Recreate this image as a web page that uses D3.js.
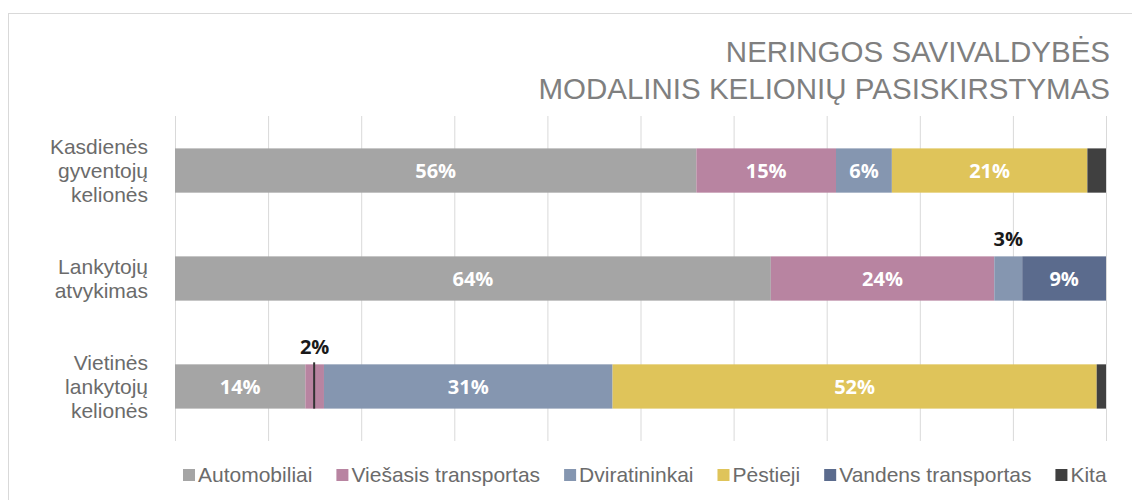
<!DOCTYPE html>
<html>
<head>
<meta charset="utf-8">
<script src="https://cdn.jsdelivr.net/npm/d3@7"></script>
<style>
  body { margin: 0; background: #fff; }
  svg { display: block; }
</style>
</head>
<body>
<div class="chart"></div>
<script>
const WIDTH = 1132;
const HEIGHT = 500;
const MARGIN = { top: 116, right: 26, bottom: 59, left: 175 };

// categories (top to bottom) and series
const categories = [
  ["Kasdienės", "gyventojų", "kelionės"],
  ["Lankytojų", "atvykimas"],
  ["Vietinės", "lankytojų", "kelionės"],
];
const seriesNames = ["Automobiliai", "Viešasis transportas", "Dviratininkai", "Pėstieji", "Vandens transportas", "Kita"];
const colors = ["#a5a5a5", "#b884a1", "#8596b0", "#dfc45a", "#5b6b8d", "#404040"];

// percentage values per series, one per category
const automobiliai = [56, 64, 14];
const viesasis = [15, 24, 2];
const dviratininkai = [6, 3, 31];
const pestieji = [21, 0, 52];
const vandens = [0, 9, 0];
const kita = [2, 0, 1];

const titleLines = ["NERINGOS SAVIVALDYBĖS", "MODALINIS KELIONIŲ PASISKIRSTYMAS"];
const xTicks = [0, 10, 20, 30, 40, 50, 60, 70, 80, 90, 100];

const seriesValues = [automobiliai, viesasis, dviratininkai, pestieji, vandens, kita];
const rows = categories.map((c, i) => {
  const r = { key: i };
  seriesNames.forEach((s, j) => (r[s] = seriesValues[j][i]));
  return r;
});
const stacked = d3.stack().keys(seriesNames)(rows);

const innerW = WIDTH - MARGIN.left - MARGIN.right;
const innerH = HEIGHT - MARGIN.top - MARGIN.bottom;

const x = d3.scaleLinear().domain([0, 100]).range([0, innerW]);
const y = d3.scaleBand().domain(d3.range(categories.length)).range([0, innerH]).paddingInner(0.59).paddingOuter(0.3);

const root = d3.select(".chart").append("svg").attr("width", WIDTH).attr("height", HEIGHT);

// outer chart border
root.append("rect")
  .attr("x", 8.5).attr("y", 13.5)
  .attr("width", WIDTH).attr("height", HEIGHT)
  .attr("fill", "none").attr("stroke", "#d9d9d9");

// title
root.append("text")
  .attr("text-anchor", "end")
  .attr("font-family", "Liberation Sans, Arial, sans-serif")
  .attr("font-size", 29.5)
  .attr("fill", "#7f7f7f")
  .selectAll("tspan")
  .data(titleLines)
  .join("tspan")
  .attr("x", 1110)
  .attr("y", (d, i) => 62 + i * 37)
  .text((d) => d);

const svg = root.append("g").attr("transform", `translate(${MARGIN.left},${MARGIN.top})`);

// vertical gridlines
svg.append("g")
  .call(d3.axisBottom(x).tickValues(xTicks).tickSize(innerH).tickFormat(""))
  .call((g) => g.select(".domain").remove())
  .call((g) => g.selectAll(".tick line").attr("stroke", "#d9d9d9"));

// bars
const layer = svg.selectAll(".layer")
  .data(stacked)
  .join("g")
  .attr("class", "layer")
  .attr("fill", (d, i) => colors[i]);

layer.selectAll("rect")
  .data((d) => d.map((v) => ({ v, key: d.key })))
  .join("rect")
  .attr("x", (d) => x(d.v[0]))
  .attr("y", (d) => y(d.v.data.key))
  .attr("width", (d) => x(d.v[1]) - x(d.v[0]))
  .attr("height", y.bandwidth());

// data labels
const labelFont = "Open Sans, Lato, sans-serif";
stacked.forEach((s, si) => {
  if (s.key === "Kita") return;
  s.forEach((v, ci) => {
    const val = v[1] - v[0];
    if (!val) return;
    const cx = x((v[0] + v[1]) / 2);
    const cy = y(ci) + y.bandwidth() / 2;
    if (val >= 5) {
      svg.append("text")
        .attr("x", cx).attr("y", cy)
        .attr("dy", "0.36em")
        .attr("text-anchor", "middle")
        .attr("font-family", labelFont)
        .attr("font-weight", "bold")
        .attr("font-size", 20)
        .attr("fill", "#fff")
        .text(val + "%");
    } else {
      svg.append("text")
        .attr("x", cx).attr("y", y(ci) - 10)
        .attr("text-anchor", "middle")
        .attr("font-family", labelFont)
        .attr("font-weight", "bold")
        .attr("font-size", 20)
        .attr("fill", "#1a1a1a")
        .text(val + "%");
      if (s.key === "Viešasis transportas") {
        // leader line
        svg.append("line")
          .attr("x1", cx - 0.5).attr("x2", cx - 0.5)
          .attr("y1", y(ci) - 2).attr("y2", y(ci) + y.bandwidth())
          .attr("stroke", "#333").attr("stroke-width", 2);
      }
    }
  });
});

// category labels
const catLabels = svg.append("g")
  .attr("font-family", "Liberation Sans, Arial, sans-serif")
  .attr("font-size", 21)
  .attr("fill", "#6b6b6b")
  .attr("text-anchor", "end");

categories.forEach((lines, i) => {
  const cy = y(i) + y.bandwidth() / 2;
  const lh = 24;
  const t = catLabels.append("text");
  lines.forEach((l, k) => {
    t.append("tspan")
      .attr("x", -27)
      .attr("y", cy + (k - (lines.length - 1) / 2) * lh)
      .attr("dy", "0.35em")
      .text(l);
  });
});

// legend
const legend = root.append("g")
  .attr("font-family", "Liberation Sans, Arial, sans-serif")
  .attr("font-size", 21)
  .attr("fill", "#6b6b6b");

let lx = 183;
seriesNames.forEach((name, i) => {
  const g = legend.append("g").attr("transform", `translate(${lx},475)`);
  g.append("rect").attr("x", 0).attr("y", -6).attr("width", 12).attr("height", 12).attr("fill", colors[i]);
  const t = g.append("text").attr("x", 15).attr("y", 0).attr("dy", "0.35em").text(name);
  lx += 15 + t.node().getComputedTextLength() + 24;
});
</script>
</body>
</html>
